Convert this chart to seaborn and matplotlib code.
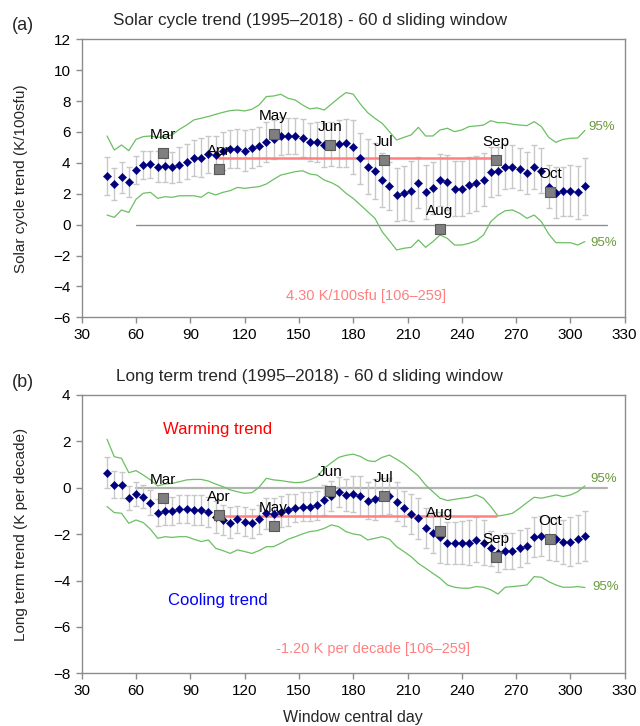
import matplotlib
matplotlib.use("Agg")
import matplotlib.pyplot as plt
import seaborn as sns
import pandas as pd

# ---- data -------------------------------------------------------------
window_day = [44, 48, 52, 56, 60, 64, 68, 72, 76, 80,
              84, 88, 92, 96, 100, 104, 108, 112, 116, 120,
              124, 128, 132, 136, 140, 144, 148, 152, 156, 160,
              164, 168, 172, 176, 180, 184, 188, 192, 196, 200,
              204, 208, 212, 216, 220, 224, 228, 232, 236, 240,
              244, 248, 252, 256, 260, 264, 268, 272, 276, 280,
              284, 288, 292, 296, 300, 304, 308]

# (a) solar cycle trend, K/100sfu
solar_trend = [3.17, 2.63, 3.06, 2.78, 3.53, 3.86, 3.90, 3.75, 3.80, 3.71,
               3.88, 4.08, 4.34, 4.34, 4.55, 4.51, 4.79, 4.88, 4.92, 4.79,
               4.94, 5.07, 5.37, 5.52, 5.74, 5.74, 5.74, 5.61, 5.35, 5.35,
               5.16, 5.22, 5.25, 5.27, 5.00, 4.29, 3.75, 3.49, 2.89, 2.50,
               1.94, 2.07, 2.16, 2.72, 2.11, 2.37, 2.89, 2.74, 2.33, 2.33,
               2.57, 2.67, 2.91, 3.39, 3.47, 3.75, 3.75, 3.60, 3.37, 3.73,
               3.49, 2.46, 2.07, 2.16, 2.20, 2.09, 2.48]
solar_err = [1.24, 1.06, 0.98, 0.97, 0.93, 0.92, 0.90, 1.00, 1.06, 1.00,
             1.13, 1.12, 1.16, 1.24, 1.21, 1.26, 1.23, 1.22, 1.26, 1.34,
             1.25, 1.27, 1.29, 1.24, 1.21, 1.16, 1.17, 1.20, 1.25, 1.30,
             1.40, 1.45, 1.50, 1.55, 1.75, 1.64, 1.78, 1.80, 1.72, 1.57,
             1.73, 1.75, 1.95, 1.67, 1.73, 1.67, 1.67, 1.78, 1.78, 1.76,
             1.81, 1.78, 1.71, 1.62, 1.57, 1.45, 1.40, 1.35, 1.36, 1.43,
             1.46, 1.40, 1.64, 1.60, 1.65, 1.70, 1.83]
solar_upper95 = [5.74, 4.83, 5.16, 4.79, 5.52, 5.70, 5.74, 5.65, 5.70, 5.81,
                 6.17, 6.45, 6.78, 6.89, 7.00, 7.14, 7.27, 7.38, 7.42, 7.36,
                 7.47, 7.75, 8.29, 8.33, 8.44, 8.18, 8.07, 7.75, 7.49, 7.56,
                 7.42, 7.81, 8.20, 8.55, 8.45, 7.80, 7.25, 6.88, 6.56, 6.02,
                 5.48, 5.65, 5.81, 6.30, 5.74, 5.74, 6.13, 6.24, 6.02, 6.13,
                 6.35, 6.39, 6.45, 6.73, 6.60, 6.60, 6.50, 6.45, 6.41, 6.67,
                 6.35, 5.65, 5.33, 5.52, 5.59, 5.61, 6.10]
solar_lower95 = [0.62, 0.47, 0.95, 0.79, 1.64, 2.03, 2.09, 1.70, 1.81, 1.77,
                 1.87, 1.87, 1.87, 1.77, 2.09, 1.92, 2.09, 2.20, 2.41, 2.35,
                 2.41, 2.46, 2.63, 2.93, 3.21, 3.32, 3.43, 3.49, 3.28, 3.21,
                 2.89, 2.72, 2.46, 2.03, 1.70, 1.27, 0.84, 0.41, -0.46, -1.04,
                 -1.64, -1.53, -1.47, -0.99, -1.47, -1.10, -0.67, -0.89, -1.32, -1.32,
                 -1.21, -1.04, -0.67, 0.19, 0.62, 0.90, 0.95, 0.73, 0.41, 0.62,
                 0.19, -0.61, -1.17, -1.17, -1.17, -1.32, -1.10]

# (b) long term trend, K per decade
long_trend = [0.65, 0.14, 0.11, -0.45, -0.28, -0.38, -0.64, -1.07, -1.01, -0.99,
              -0.93, -0.93, -0.96, -0.96, -1.03, -1.27, -1.39, -1.50, -1.36, -1.46,
              -1.53, -1.36, -1.10, -1.13, -1.03, -0.96, -0.88, -0.81, -0.81, -0.76,
              -0.53, -0.35, -0.17, -0.31, -0.27, -0.35, -0.55, -0.50, -0.38, -0.35,
              -0.60, -0.88, -1.14, -1.32, -1.75, -1.93, -2.14, -2.39, -2.39, -2.37,
              -2.37, -2.25, -2.37, -2.61, -2.83, -2.72, -2.72, -2.61, -2.49, -2.11,
              -2.08, -2.18, -2.22, -2.32, -2.32, -2.21, -2.08]
long_err = [0.68, 0.57, 0.57, 0.52, 0.52, 0.50, 0.54, 0.57, 0.59, 0.60,
            0.60, 0.61, 0.63, 0.64, 0.65, 0.70, 0.63, 0.65, 0.59, 0.63,
            0.63, 0.63, 0.67, 0.67, 0.68, 0.68, 0.60, 0.62, 0.63, 0.64,
            0.65, 0.66, 0.65, 0.68, 0.79, 0.86, 0.79, 0.88, 0.79, 0.79,
            0.83, 0.75, 0.86, 0.88, 0.86, 0.90, 1.10, 0.91, 0.91, 0.93,
            0.96, 0.97, 0.97, 0.75, 0.79, 0.78, 0.79, 0.79, 0.74, 0.86,
            0.86, 0.93, 0.93, 0.95, 1.06, 1.03, 1.08]
long_upper95 = [2.09, 1.34, 1.27, 0.65, 0.74, 0.55, 0.34, 0.08, 0.16, 0.19,
                0.26, 0.34, 0.36, 0.36, 0.29, 0.16, 0.05, -0.09, -0.17, -0.24,
                -0.21, 0.02, 0.41, 0.34, 0.31, 0.26, 0.22, 0.24, 0.34, 0.48,
                0.84, 1.08, 1.31, 1.40, 1.45, 1.35, 1.17, 1.13, 1.31, 1.41,
                1.23, 1.03, 0.77, 0.51, 0.12, -0.17, -0.45, -0.55, -0.50, -0.45,
                -0.41, -0.31, -0.45, -0.81, -1.22, -1.17, -1.10, -0.88, -0.64, -0.41,
                -0.45, -0.38, -0.31, -0.38, -0.31, -0.17, 0.08]
long_lower95 = [-0.81, -1.07, -1.10, -1.53, -1.39, -1.50, -1.79, -2.18, -2.11, -2.14,
                -2.11, -2.11, -2.22, -2.32, -2.25, -2.61, -2.71, -2.83, -2.68, -2.75,
                -2.83, -2.71, -2.54, -2.54, -2.39, -2.22, -2.11, -1.99, -1.89, -1.85,
                -1.75, -1.60, -1.68, -1.89, -1.99, -2.04, -2.25, -2.18, -2.11, -2.22,
                -2.54, -2.75, -2.97, -3.26, -3.47, -3.69, -3.90, -4.19, -4.29, -4.33,
                -4.33, -4.26, -4.29, -4.40, -4.58, -4.29, -4.26, -4.23, -4.19, -3.83,
                -3.86, -4.05, -4.19, -4.29, -4.29, -4.26, -4.30]

# monthly values
month_names = ["Mar", "Apr", "May", "Jun", "Jul", "Aug", "Sep", "Oct"]
month_day = [75, 106, 136, 167, 197, 228, 259, 289]
solar_month = [4.66, 3.62, 5.85, 5.18, 4.16, -0.26, 4.16, 2.09]
long_month = [-0.45, -1.17, -1.63, -0.12, -0.35, -1.85, -2.97, -2.19]

# mean trend over the 106-259 window
mean_span = [106, 259]
solar_mean = 4.30
long_mean = -1.20

x_ticks = [30, 60, 90, 120, 150, 180, 210, 240, 270, 300, 330]
solar_yticks = [-6, -4, -2, 0, 2, 4, 6, 8, 10, 12]
long_yticks = [-8, -6, -4, -2, 0, 2, 4]

# ---- style -----------------------------------------------------------
sns.set_theme(style="white")
plt.rcParams["font.family"] = ["Liberation Sans", "DejaVu Sans"]

NAVY = "#00007f"
GREEN = "#6cbf63"
GREEN_TXT = "#6a9a3c"
PINK = "#ff8080"
SPINE = "#8c8c8c"

fig = plt.figure(figsize=(6.4, 7.26), dpi=100)
W, H = 640.0, 726.0
ax_a = fig.add_axes([81.7 / W, 1 - 317.3 / H, 543 / W, 278 / H])
ax_b = fig.add_axes([81.7 / W, 1 - 673.3 / H, 543 / W, 278.3 / H])


def draw_panel(ax, trend, err, upper, lower, mvals, mean_val,
               zero_color, zero_lw, ylim, yticks):
    df = pd.DataFrame({"day": window_day, "trend": trend,
                       "upper": upper, "lower": lower})
    mdf = pd.DataFrame({"day": month_day, "value": mvals, "name": month_names})

    # reference line at zero
    sns.lineplot(x=[60, 320], y=[0, 0], ax=ax, color=zero_color,
                 lw=zero_lw, zorder=1)
    # 95% envelope
    sns.lineplot(data=df, x="day", y="upper", ax=ax, color=GREEN, lw=0.9,
                 estimator=None, sort=False, zorder=2)
    sns.lineplot(data=df, x="day", y="lower", ax=ax, color=GREEN, lw=0.9,
                 estimator=None, sort=False, zorder=2)
    # uncertainty bars
    ax.errorbar(df["day"], df["trend"], yerr=err, fmt="none",
                ecolor="#c8c8c8", elinewidth=1.0, capsize=2.5,
                capthick=1.0, zorder=3)
    # mean over the window
    sns.lineplot(x=mean_span, y=[mean_val, mean_val], ax=ax, color=PINK,
                 lw=1.8, zorder=4)
    # sliding-window trend
    sns.scatterplot(data=df, x="day", y="trend", ax=ax, marker="D", s=18,
                    color=NAVY, edgecolor=NAVY, linewidth=0.3, zorder=5)
    # monthly values
    sns.scatterplot(data=mdf, x="day", y="value", ax=ax, marker="s", s=62,
                    color="#7f7f7f", edgecolor="#5a5a5a", linewidth=0.8,
                    zorder=6)
    for d, v, n in zip(month_day, mvals, month_names):
        ax.annotate(n, (d, v), xytext=(0, 13), textcoords="offset points",
                    ha="center", va="center", fontsize=11, color="black",
                    zorder=7)

    ax.set_xlim(30, 330)
    ax.set_ylim(*ylim)
    ax.set_xticks(x_ticks)
    ax.set_yticks(yticks)
    ax.set_xlabel("")
    ax.set_ylabel("")
    for sp in ax.spines.values():
        sp.set_color(SPINE)
        sp.set_linewidth(1.0)
    ax.tick_params(axis="both", direction="out", length=4, width=1,
                   color=SPINE, labelsize=11, labelcolor="black", pad=4,
                   left=True, bottom=True)


draw_panel(ax_a, solar_trend, solar_err, solar_upper95, solar_lower95,
           solar_month, solar_mean, "#8f8f8f", 1.0, (-6, 12), solar_yticks)
draw_panel(ax_b, long_trend, long_err, long_upper95, long_lower95,
           long_month, long_mean, "#b3b3b3", 1.6, (-8, 4), long_yticks)

# ---- panel (a) text --------------------------------------------------
ax_a.text(0.42, 1.068, "Solar cycle trend (1995\u20132018) - 60 d sliding window",
          transform=ax_a.transAxes, ha="center", va="center", fontsize=12.3)
fig.text(12 / W, 1 - 26 / H, "(a)", ha="left", va="center", fontsize=13)
ax_a.set_ylabel("Solar cycle trend (K/100sfu)", fontsize=11)
ax_a.yaxis.set_label_coords(-0.098, 0.5)
ax_a.text(187, -4.6, "4.30 K/100sfu [106\u2013259]", ha="center",
          va="center", fontsize=10.5, color=PINK)
ax_a.text(310, 6.3, "95%", ha="left", va="center", fontsize=9.5,
          color=GREEN_TXT)
ax_a.text(311, -1.2, "95%", ha="left", va="center", fontsize=9.5,
          color=GREEN_TXT)

# ---- panel (b) text --------------------------------------------------
ax_b.text(0.42, 1.068, "Long term trend (1995\u20132018) - 60 d sliding window",
          transform=ax_b.transAxes, ha="center", va="center", fontsize=12.3)
fig.text(12 / W, 1 - 383 / H, "(b)", ha="left", va="center", fontsize=13)
ax_b.set_ylabel("Long term trend (K per decade)", fontsize=11)
ax_b.yaxis.set_label_coords(-0.098, 0.5)
ax_b.set_xlabel("Window central day", fontsize=11.5)
ax_b.xaxis.set_label_coords(0.5, -0.133)
ax_b.text(105, 2.52, "Warming trend", ha="center", va="center",
          fontsize=12, color="#ff0000")
ax_b.text(105, -4.87, "Cooling trend", ha="center", va="center",
          fontsize=12, color="#0000ff")
ax_b.text(191, -6.96, "-1.20 K per decade [106\u2013259]", ha="center",
          va="center", fontsize=10.5, color=PINK)
ax_b.text(311, 0.38, "95%", ha="left", va="center", fontsize=9.5,
          color=GREEN_TXT)
ax_b.text(312, -4.29, "95%", ha="left", va="center", fontsize=9.5,
          color=GREEN_TXT)

fig.savefig("out.png", dpi=100)
